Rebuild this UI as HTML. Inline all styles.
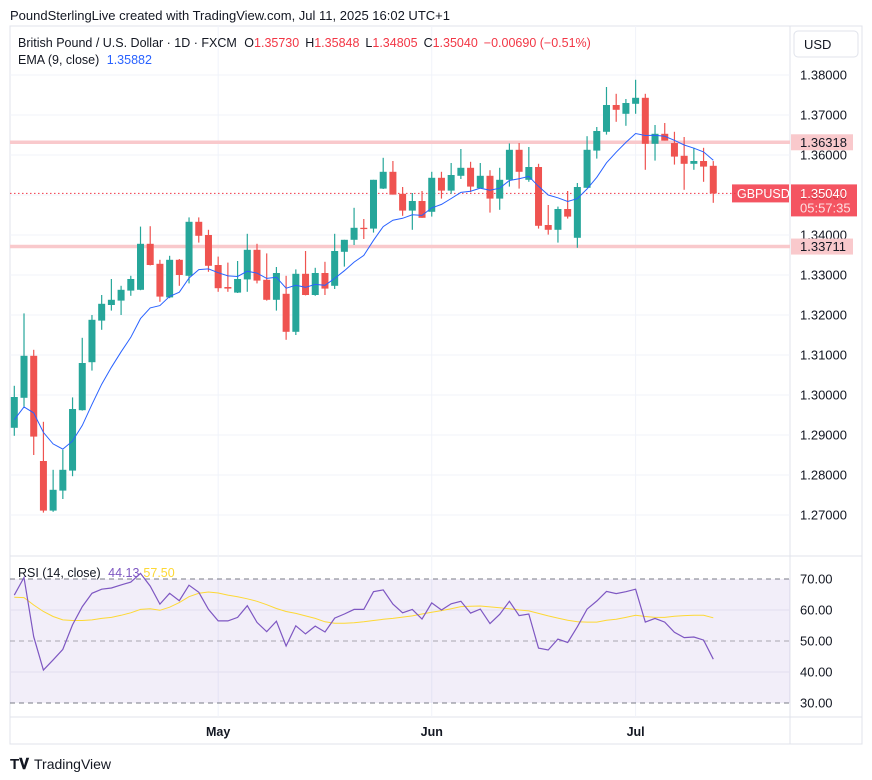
<!DOCTYPE html>
<html><head><meta charset="utf-8">
<style>
html,body{margin:0;padding:0;background:#fff;}
svg{display:block;font-family:"Liberation Sans",sans-serif;}
</style></head>
<body>
<svg id="chart" width="872" height="780" viewBox="0 0 872 780" xmlns="http://www.w3.org/2000/svg">
  <text x="10" y="20" font-size="13" fill="#131722">PoundSterlingLive created with TradingView.com, Jul 11, 2025 16:02 UTC+1</text>
  <rect x="10" y="26" width="852" height="718" fill="none" stroke="#e0e3eb" stroke-width="1"/>
  <line x1="790" y1="26" x2="790" y2="744" stroke="#e0e3eb"/>
  <line x1="10" y1="556" x2="862" y2="556" stroke="#e0e3eb"/>
  <line x1="10" y1="717" x2="862" y2="717" stroke="#e0e3eb"/>
  <g id="grid"></g>
  <rect x="10" y="579" width="780" height="124" fill="#7e57c2" fill-opacity="0.1"/>
  <g id="rsiGuides"></g>
  <g id="levels"></g>
  <g id="candles"></g>
  <g id="lines"></g>
  <g id="axis"></g>
  <text x="18" y="47" font-size="12.5" fill="#131722">British Pound / U.S. Dollar · 1D · FXCM <tspan dx="4">O</tspan><tspan fill="#f23645">1.35730</tspan><tspan dx="6">H</tspan><tspan fill="#f23645">1.35848</tspan><tspan dx="6">L</tspan><tspan fill="#f23645">1.34805</tspan><tspan dx="6">C</tspan><tspan fill="#f23645">1.35040</tspan><tspan dx="6" fill="#f23645">−0.00690 (−0.51%)</tspan></text>
  <text x="18" y="64" font-size="12.5" fill="#131722">EMA (9, close) <tspan dx="4" fill="#2962ff">1.35882</tspan></text>
  <text x="18" y="577" font-size="12.5" fill="#131722">RSI (14, close) <tspan dx="4" fill="#7e57c2">44.13</tspan><tspan dx="4" fill="#fdd835">57.50</tspan></text>
  <rect x="794" y="31" width="64" height="26" rx="4" fill="#fff" stroke="#e0e3eb"/>
  <text x="804" y="49" font-size="13" fill="#131722">USD</text>
  <g>
    <text x="10" y="769" font-size="15" font-weight="bold" fill="#131722">T𝐕</text>
    <text x="34" y="769" font-size="14" fill="#131722">TradingView</text>
  </g>
</svg>
<script>
const opens  =[1.2918,1.2993,1.3098,1.2835,1.2711,1.2761,1.2811,1.2962,1.3082,1.3186,1.3225,1.3236,1.3261,1.3263,1.3378,1.3328,1.3244,1.3338,1.3298,1.3433,1.3400,1.3325,1.3270,1.3256,1.3289,1.3363,1.3288,1.3238,1.3253,1.3158,1.3303,1.3250,1.3305,1.3273,1.3358,1.3388,1.3418,1.3416,1.3516,1.3558,1.3503,1.3461,1.3485,1.3458,1.3543,1.3511,1.3548,1.3568,1.3517,1.3548,1.3491,1.3538,1.3613,1.3538,1.3570,1.3425,1.3413,1.3465,1.3393,1.3518,1.3611,1.3658,1.3725,1.3703,1.3728,1.3743,1.3628,1.3653,1.3630,1.3598,1.3578,1.3585,1.3573];
const highs  =[1.3023,1.3204,1.3113,1.2933,1.2813,1.2863,1.2994,1.3143,1.3200,1.3250,1.3290,1.3273,1.3298,1.3421,1.3422,1.3338,1.3348,1.3340,1.3444,1.3444,1.3413,1.3346,1.3331,1.3335,1.3403,1.3378,1.3354,1.3320,1.3298,1.3314,1.3360,1.3318,1.3333,1.3403,1.3388,1.3468,1.3440,1.3538,1.3593,1.3585,1.3520,1.3505,1.3510,1.3558,1.3558,1.3580,1.3615,1.3583,1.3580,1.3562,1.3568,1.3629,1.3630,1.3620,1.3578,1.3475,1.3471,1.3510,1.3530,1.3647,1.3670,1.3770,1.3753,1.3740,1.3788,1.3753,1.3675,1.3680,1.3658,1.3645,1.3618,1.3618,1.35848];
const lows   =[1.2898,1.2971,1.2850,1.2706,1.2708,1.2740,1.2797,1.2961,1.3061,1.3163,1.3211,1.3200,1.3248,1.3262,1.3324,1.3233,1.3242,1.3273,1.3279,1.3381,1.3308,1.3258,1.3258,1.3255,1.3258,1.3279,1.3236,1.3211,1.3138,1.3150,1.3249,1.3248,1.3250,1.3265,1.3321,1.3375,1.3390,1.3406,1.3515,1.3501,1.3448,1.3413,1.3443,1.3446,1.3491,1.3503,1.3540,1.3507,1.3517,1.3456,1.3463,1.3521,1.3516,1.3533,1.3416,1.3401,1.3381,1.3441,1.3368,1.3518,1.3591,1.3651,1.3683,1.3673,1.3703,1.3563,1.3586,1.3636,1.3576,1.3513,1.3563,1.3533,1.34805];
const closes =[1.2995,1.3098,1.2896,1.2711,1.2763,1.2813,1.2965,1.3080,1.3188,1.3228,1.3238,1.3263,1.3290,1.3378,1.3325,1.3246,1.3338,1.3300,1.3433,1.3398,1.3323,1.3267,1.3266,1.3290,1.3363,1.3286,1.3238,1.3305,1.3158,1.3303,1.3250,1.3305,1.3266,1.3360,1.3388,1.3418,1.3416,1.3538,1.3558,1.3501,1.3461,1.3485,1.3443,1.3543,1.3511,1.3550,1.3568,1.3521,1.3548,1.3491,1.3538,1.3613,1.3558,1.3570,1.3423,1.3413,1.3465,1.3446,1.3520,1.3613,1.3660,1.3725,1.3713,1.3730,1.3743,1.3628,1.3653,1.3636,1.3596,1.3578,1.3585,1.3571,1.3504];
const rsiValues=[64.8,70.5,51.4,40.6,43.9,47.3,55.2,61.1,65.4,66.7,67.1,68.1,69.0,71.8,67.7,61.9,65.4,63.0,68.0,65.7,60.2,56.5,56.5,57.6,61.4,56.0,53.0,56.4,48.4,54.9,52.3,54.8,52.9,57.4,58.7,60.2,60.2,65.9,66.5,61.9,59.1,60.2,57.1,62.3,60.0,62.0,62.8,59.0,60.3,55.6,58.6,62.8,58.2,58.7,47.7,47.1,50.6,49.5,54.6,60.3,62.9,66.0,65.3,65.9,66.7,56.1,57.3,56.1,52.8,51.1,51.3,50.3,44.13];
const rsiMaValues=[64.1,64.0,61.6,59.5,57.9,56.8,56.6,56.6,56.8,57.3,57.6,58.3,59.1,60.2,60.4,59.9,60.9,62.4,64.3,65.4,65.8,65.5,64.8,64.3,63.6,62.8,61.7,60.5,59.5,58.9,58.1,57.3,56.2,55.7,55.7,55.9,56.2,56.6,57.0,57.3,57.7,58.1,58.7,59.3,59.8,60.4,61.1,61.2,61.3,61.0,60.7,60.4,60.0,59.7,58.9,58.1,57.4,56.7,56.2,56.1,56.1,56.7,57.0,57.6,58.3,57.9,57.6,57.6,58.0,58.2,58.3,58.3,57.50];
const priceTicks=[1.27,1.28,1.29,1.30,1.31,1.32,1.33,1.34,1.35,1.36,1.37,1.38];
const rsiTicks=[70,60,50,40,30];
const monthLabels=["May","Jun","Jul"];
const monthIdx=[21,43,64];
const levels=[1.36318,1.33711];
const lastPrice=1.3504;
const emaSeed=1.2924;

const NS="http://www.w3.org/2000/svg";
const xS=i=>14.3+i*9.708;
const yP=p=>75+(1.38-p)*4000;
const yR=v=>579+(70-v)*3.1;
function mk(tag,attrs,parent){const e=document.createElementNS(NS,tag);for(const k in attrs)e.setAttribute(k,attrs[k]);parent.appendChild(e);return e;}
const grid=document.getElementById('grid'),cg=document.getElementById('candles'),lg=document.getElementById('lines'),ax=document.getElementById('axis'),lv=document.getElementById('levels'),rg=document.getElementById('rsiGuides');

priceTicks.forEach(p=>{
  const l=mk('line',{x1:10,x2:790,y1:yP(p),y2:yP(p),stroke:'#f0f3fa'},grid);
  
  
  if(p===1.36||p===1.34) return;
  const t=mk('text',{x:800,y:yP(p)+4.5,'font-size':13,fill:'#131722'},ax);
  
  
  t.textContent=p.toFixed(5);
});
// show 1.36 and 1.34 labels partially hidden by level boxes
[1.36,1.34].forEach(p=>{
  const t=mk('text',{x:800,y:yP(p)+4.5,'font-size':13,fill:'#131722'},ax);
  
  
  t.textContent=p.toFixed(5);
});
monthIdx.forEach((i,k)=>{
  const l=mk('line',{x1:xS(i),x2:xS(i),y1:26,y2:717,stroke:'#f0f3fa'},grid);
  
  
  const t=mk('text',{x:xS(i),y:736,'font-size':12.5,'font-weight':'bold','text-anchor':'middle',fill:'#131722'},ax);
  
  
  t.textContent=monthLabels[k];
});
rsiTicks.forEach(v=>{
  const dashed=(v%20===10);
  const l=mk('line',{x1:10,x2:790,y1:yR(v),y2:yR(v),stroke:dashed?'#787b86':'#e3dff0','stroke-dasharray':dashed?'5,4':'none'},rg);
  if(v===50){l.setAttribute('stroke','#a8a6b0');}
  
  
  const t=mk('text',{x:800,y:yR(v)+4.5,'font-size':13,fill:'#131722'},ax);
  
  
  t.textContent=v.toFixed(2);
});
levels.forEach(p=>{
  const l=mk('line',{x1:10,x2:790,y1:yP(p),y2:yP(p),stroke:'#f9c9cc','stroke-width':3.5},lv);
  
  
});
const pl=mk('line',{x1:10,x2:790,y1:yP(lastPrice),y2:yP(lastPrice),stroke:'#f23645','stroke-dasharray':'1.5,2.5','stroke-width':1},lv);



closes.forEach((c,i)=>{
  const o=opens[i],up=c>=o,col=up?'#26a69a':'#ef5350',x=xS(i);
  const g=mk('g',{},cg);
  
  
  mk('line',{x1:x,x2:x,y1:yP(highs[i]),y2:yP(lows[i]),stroke:col,'stroke-width':1.2},g);
  const top=yP(Math.max(o,c)),h=Math.max(1.3,Math.abs(yP(o)-yP(c)));
  mk('rect',{x:x-3.5,y:top,width:7,height:h,fill:col},g);
});
// EMA
let e=emaSeed;const k=2/10;const emaPts=[];
closes.forEach((c,i)=>{e=e+k*(c-e);emaPts.push(xS(i).toFixed(1)+','+yP(e).toFixed(1));});
const ep=mk('polyline',{points:emaPts.join(' '),fill:'none',stroke:'#2962ff','stroke-width':1},lg);


const rm=mk('polyline',{points:rsiMaValues.map((v,i)=>xS(i).toFixed(1)+','+yR(v).toFixed(1)).join(' '),fill:'none',stroke:'#fdd835','stroke-width':1},lg);


const rl=mk('polyline',{points:rsiValues.map((v,i)=>xS(i).toFixed(1)+','+yR(v).toFixed(1)).join(' '),fill:'none',stroke:'#7e57c2','stroke-width':1.2},lg);



// level labels
levels.forEach(p=>{
  const g=mk('g',{},ax);
  
  
  mk('rect',{x:791,y:yP(p)-8,width:62,height:16,fill:'#f9c9cc'},g);
  const t=mk('text',{x:800,y:yP(p)+4.5,'font-size':13,fill:'#131722'},g);
  t.textContent=p.toFixed(5);
});
const lb=mk('g',{},ax);


mk('rect',{x:732,y:yP(lastPrice)-9,width:57,height:18,fill:'#f23645','fill-opacity':0.85},lb);
const st=mk('text',{x:737,y:yP(lastPrice)+4.5,'font-size':12.5,fill:'#fff'},lb);st.textContent='GBPUSD';
mk('rect',{x:791,y:yP(lastPrice)-9,width:66,height:32,fill:'#f23645','fill-opacity':0.85},lb);
const pt=mk('text',{x:800,y:yP(lastPrice)+4.5,'font-size':13,fill:'#fff'},lb);pt.textContent=lastPrice.toFixed(5);
const ct=mk('text',{x:800,y:yP(lastPrice)+19,'font-size':13,fill:'#fde0e2'},lb);ct.textContent='05:57:35';
</script>
</body></html>
